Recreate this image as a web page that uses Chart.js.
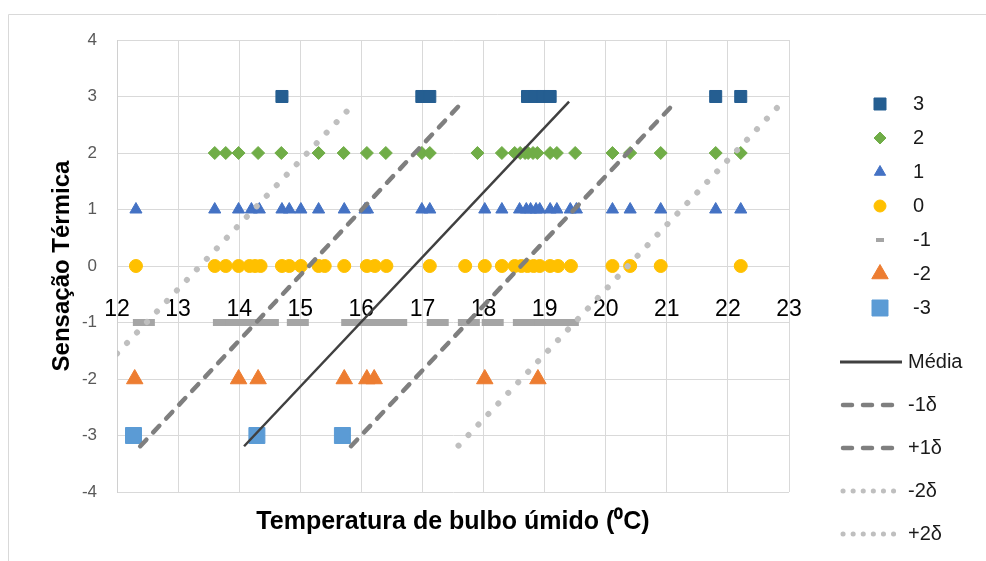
<!DOCTYPE html>
<html>
<head>
<meta charset="utf-8">
<script src="https://cdn.jsdelivr.net/npm/chart.js@4"></script>
</head>
<body style="margin:0;background:#fff">
<canvas id="myChart" width="986" height="561"></canvas>
<script>
// sensação térmica levels and the wet-bulb temperatures observed at each
var s3 = [14.7, 16.99, 17.12, 18.72, 18.85, 18.97, 19.09, 21.8, 22.21];
var s2 = [13.6, 13.78, 13.99, 14.31, 14.69, 15.3, 15.71, 16.09, 16.4, 16.99, 17.12,
  17.9, 18.3, 18.51, 18.6, 18.68, 18.73, 18.81, 18.88, 19.09, 19.2, 19.5,
  20.11, 20.4, 20.9, 21.8, 22.21];
var s1 = [12.31, 13.6, 13.99, 14.2, 14.33, 14.7, 14.82, 15.01, 15.3, 15.72, 16.06,
  16.1, 16.99, 17.12, 18.02, 18.3, 18.59, 18.7, 18.77, 18.86, 18.92, 19.09,
  19.2, 19.42, 19.52, 20.11, 20.4, 20.9, 21.8, 22.21];
var s0 = [12.31, 13.6, 13.78, 13.99, 14.17, 14.26, 14.35, 14.7, 14.82, 15.01, 15.3,
  15.4, 15.72, 16.09, 16.22, 16.41, 17.12, 17.7, 18.02, 18.3, 18.51, 18.62,
  18.72, 18.82, 18.92, 19.09, 19.22, 19.43, 20.11, 20.4, 20.9, 22.21];
var sm1 = [12.44, 13.75, 13.95, 14.15, 14.32, 14.47, 14.96, 15.85, 16.02, 16.2,
  16.38, 16.57, 17.25, 17.76, 18.15, 18.66, 18.84, 19.02, 19.2, 19.38];
var sm2 = [12.29, 13.99, 14.31, 15.72, 16.09, 16.21, 18.02, 18.89];
var sm3 = [12.27, 14.29, 15.69];

var levelNames = ["3", "2", "1", "0", "-1", "-2", "-3"];
var levelValues = [3, 2, 1, 0, -1, -2, -3];
var levelX = [s3, s2, s1, s0, sm1, sm2, sm3];

// regression line and the ±1δ / ±2δ bands (end points)
var lineNames = ["Média", "-1δ", "+1δ", "-2δ", "+2δ"];
var lineX = [[14.08, 19.4], [12.38, 17.68], [15.83, 21.15], [12.0, 15.87], [17.59, 22.84]];
var lineY = [[-3.19, 2.91], [-3.19, 2.93], [-3.19, 2.91], [-1.55, 2.86], [-3.18, 2.84]];

var xTicks = [12, 13, 14, 15, 16, 17, 18, 19, 20, 21, 22, 23];
var yTicks = [-4, -3, -2, -1, 0, 1, 2, 3, 4];

var levelColors = ["#255e91", "#70ad47", "#4472c4", "#ffc000", "#a5a5a5", "#ed7d31", "#5b9bd5"];
var levelStyles = ["rect", "rectRot", "triangle", "circle", "line", "triangle", "rect"];
var levelRadius = [8.5, 6.5, 7, 6.5, 11, 9.5, 11.3];
var legendRadius = [8.5, 6, 6.5, 6, 4, 9.5, 11.3];

var lineColors = ["#404040", "#7f7f7f", "#7f7f7f", "#bfbfbf", "#bfbfbf"];
var lineWidths = [2.5, 4.5, 4.5, 6, 6];
var lineDashes = [[], [9, 10], [9, 10], [0.1, 14.4], [0.1, 14.4]];

var FONT = "'Liberation Sans', Arial, sans-serif";

var datasets = [];
levelNames.forEach(function (name, i) {
  var isDash = levelStyles[i] == "line";
  datasets.push({
    label: name,
    order: 1,
    data: levelX[i].map(function (x) { return { x: x, y: levelValues[i] }; }),
    showLine: false,
    pointStyle: levelStyles[i],
    pointRadius: levelRadius[i],
    pointHoverRadius: levelRadius[i],
    backgroundColor: levelColors[i],
    borderColor: levelColors[i],
    pointBorderWidth: isDash ? 7 : 1,
    pointHoverBorderWidth: isDash ? 7 : 1,
  });
});
lineNames.forEach(function (name, i) {
  datasets.push({
    label: name,
    order: 0,
    data: lineX[i].map(function (x, j) { return { x: x, y: lineY[i][j] }; }),
    showLine: true,
    pointRadius: 0,
    borderColor: lineColors[i],
    borderWidth: lineWidths[i],
    borderDash: lineDashes[i],
    borderCapStyle: i == 0 ? "butt" : "round",
    backgroundColor: lineColors[i],
  });
});

// frame + legend drawn by hand so spacing follows the original
var sideLegend = {
  id: "sideLegend",
  beforeDraw: function (chart) {
    var ctx = chart.ctx;
    ctx.save();
    ctx.strokeStyle = "#d9d9d9";
    ctx.lineWidth = 1;
    ctx.beginPath();
    ctx.moveTo(8.5, 561);
    ctx.lineTo(8.5, 14.5);
    ctx.lineTo(986, 14.5);
    ctx.stroke();
    ctx.restore();
  },
  afterDraw: function (chart) {
    var ctx = chart.ctx;
    ctx.save();
    ctx.font = "20px " + FONT;
    ctx.textBaseline = "middle";
    ctx.fillStyle = "#1a1a1a";
    chart.data.datasets.forEach(function (ds, i) {
      var y = i < 7 ? 104 + 34 * i : 362 + 43 * (i - 7);
      var tx;
      if (ds.showLine) {
        ctx.save();
        ctx.strokeStyle = ds.borderColor;
        ctx.lineWidth = i == 7 ? 3 : (i < 10 ? 4.5 : 5);
        ctx.lineCap = ds.borderCapStyle;
        ctx.setLineDash(i == 7 ? [] : (i < 10 ? [9, 11] : [0.1, 10]));
        ctx.beginPath();
        ctx.moveTo(i == 7 ? 840 : 843, y);
        ctx.lineTo(i == 7 ? 902 : 896, y);
        ctx.stroke();
        ctx.restore();
        tx = 908;
      } else {
        ctx.save();
        ctx.fillStyle = ds.backgroundColor;
        ctx.strokeStyle = ds.borderColor;
        ctx.lineWidth = ds.pointStyle == "line" ? 4 : 1;
        Chart.helpers.drawPoint(ctx, {
          pointStyle: ds.pointStyle, radius: legendRadius[i], rotation: 0, borderWidth: 1
        }, 880, y);
        ctx.restore();
        tx = 913;
      }
      ctx.fillText(ds.label, tx, y);
    });
    ctx.restore();
  }
};

new Chart("myChart", {
  type: "scatter",
  data: { datasets: datasets },
  plugins: [sideLegend],
  options: {
    responsive: false,
    animation: false,
    layout: { padding: { left: 38, right: 197, top: 40, bottom: 13 } },
    plugins: { legend: { display: false }, tooltip: { enabled: false } },
    scales: {
      x: {
        type: "linear",
        position: { y: 0 },
        min: 12,
        max: 23,
        afterBuildTicks: function (s) { s.ticks = xTicks.map(function (v) { return { value: v }; }); },
        ticks: { color: "#000", font: { size: 23, family: FONT }, padding: 30 },
        grid: { color: "#d9d9d9", drawTicks: false },
        border: { display: false },
      },
      xt: {
        type: "linear",
        position: "bottom",
        min: 12,
        max: 23,
        ticks: { display: false },
        grid: { display: false },
        border: { display: false },
        title: {
          display: true,
          text: "Temperatura de bulbo úmido (⁰C)",
          color: "#000",
          font: { size: 25, weight: "bold", family: FONT },
          padding: { top: 7, bottom: 11 },
        },
      },
      y: {
        min: -4,
        max: 4,
        afterBuildTicks: function (s) { s.ticks = yTicks.map(function (v) { return { value: v }; }); },
        afterFit: function (s) { s.width = 79; },
        ticks: { color: "#595959", font: { size: 17, family: FONT }, padding: 20 },
        grid: { color: "#d9d9d9", drawTicks: false },
        border: { color: "#d0d0d0" },
        title: {
          display: true,
          text: "Sensação Térmica",
          color: "#000",
          font: { size: 24, weight: "bold", family: FONT },
          padding: { top: 10, bottom: 0 },
        },
      },
    },
  },
});
</script>
</body>
</html>
